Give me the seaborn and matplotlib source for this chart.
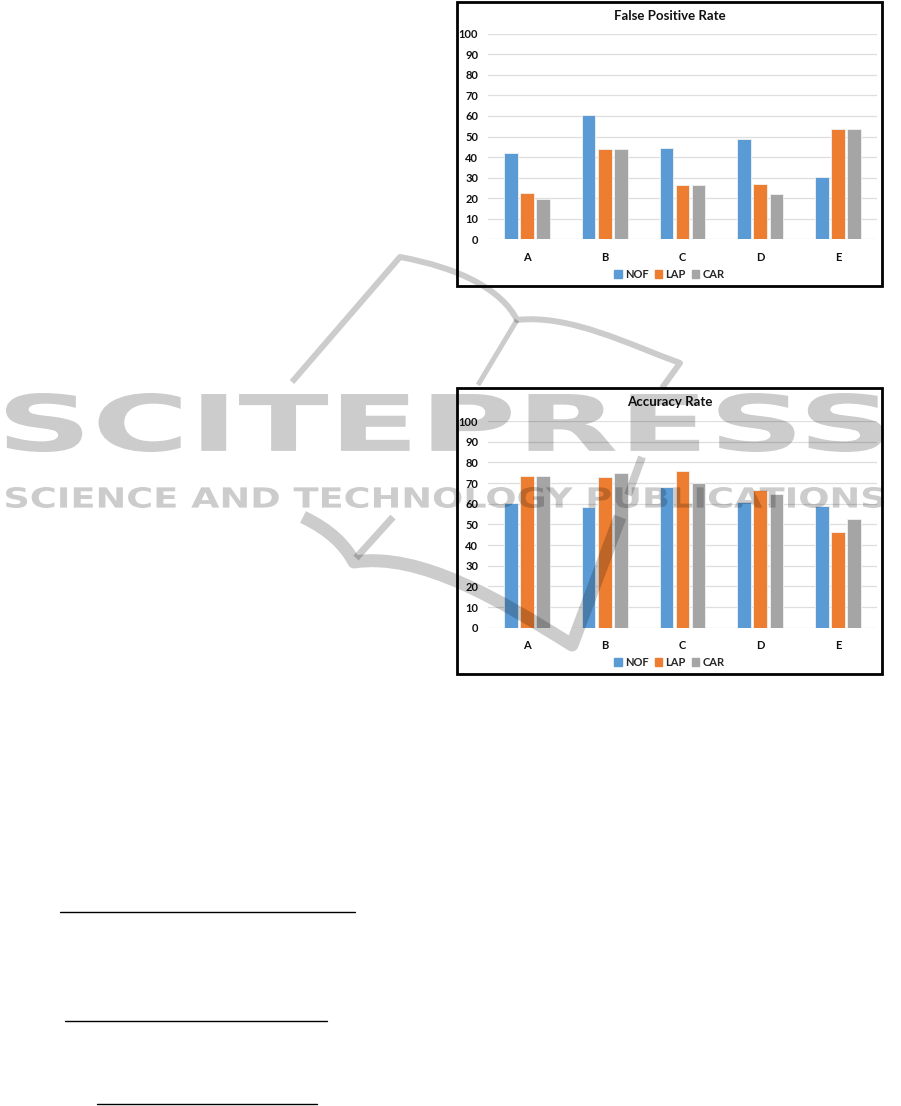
import matplotlib
matplotlib.use("Agg")
import matplotlib.pyplot as plt
import pandas as pd
import seaborn as sns
from matplotlib.patches import Rectangle, PathPatch
from matplotlib.path import Path
from matplotlib.textpath import TextPath
from matplotlib.font_manager import FontProperties
from matplotlib.transforms import Affine2D
from matplotlib.lines import Line2D

groups = ["A", "B", "C", "D", "E"]
methods = ["NOF", "LAP", "CAR"]

fpr_nof = [41.8, 60.3, 44.5, 48.6, 30.4]
fpr_lap = [22.5, 43.9, 26.6, 26.8, 53.7]
fpr_car = [19.5, 43.9, 26.6, 22.0, 53.7]

acc_nof = [60.2, 58.2, 67.9, 60.7, 58.9]
acc_lap = [73.4, 72.8, 75.7, 66.4, 46.4]
acc_car = [73.4, 74.8, 70.1, 64.8, 52.4]

colors = ["#5B9BD5", "#ED7D31", "#A5A5A5"]

W, H = 901, 1106

sns.set_theme(style="white")
plt.rcParams["font.family"] = ["Lato", "DejaVu Sans"]

fig = plt.figure(figsize=(W / 100, H / 100), dpi=100)


def long_df(nof, lap, car):
    return pd.DataFrame({
        "group": groups * 3,
        "method": [m for m in methods for _ in groups],
        "value": nof + lap + car,
    })


def px_box(l, t, r, b):
    # pixel box (from top-left) -> figure fraction [x, y, w, h]
    return [l / W, 1 - b / H, (r - l) / W, (b - t) / H]


def draw_chart(title, df, frame, axbox):
    fl, ft, fr, fb = frame
    fig.add_artist(Rectangle((fl / W, 1 - fb / H), (fr - fl) / W, (fb - ft) / H,
                             transform=fig.transFigure, fill=False,
                             ec="black", lw=2.0, zorder=0.5))
    ax = fig.add_axes(px_box(*axbox))
    sns.barplot(data=df, x="group", y="value", hue="method", palette=colors,
                width=0.62, gap=0.15, saturation=1, errorbar=None,
                edgecolor="#f2f2f2", linewidth=0.6, ax=ax)
    ax.set_ylim(0, 100)
    ax.set_xlim(-0.5, 4.5)
    ax.set_yticks(range(0, 101, 10))
    ax.yaxis.grid(True, color="#dedede", lw=0.9)
    ax.set_axisbelow(True)
    for s in ax.spines.values():
        s.set_visible(False)
    ax.set_xlabel("")
    ax.set_ylabel("")
    ax.tick_params(axis="both", length=0, labelsize=8, colors="#111111")
    ax.tick_params(axis="y", pad=7)
    ax.tick_params(axis="x", pad=9)
    for lab in ax.get_xticklabels() + ax.get_yticklabels():
        lab.set_fontweight("bold")
    ax.legend_.remove()
    handles = [Rectangle((0, 0), 1, 1, color=c) for c in colors]
    cx = ((fl + fr) / 2 - axbox[0]) / (axbox[2] - axbox[0])
    ly = (axbox[3] - (fb - 12)) / (axbox[3] - axbox[1])
    ax.legend(handles, methods, loc="center", bbox_to_anchor=(cx, ly), ncol=3,
              frameon=False, handlelength=0.7, handleheight=0.7,
              handletextpad=0.3, columnspacing=0.5,
              prop={"weight": "bold", "size": 8})
    fig.text((fl + fr) / 2 / W, 1 - (ft + 14) / H, title, ha="center",
             va="center", fontsize=9.5, fontweight="bold", color="#111111")
    return ax


draw_chart("False Positive Rate", long_df(fpr_nof, fpr_lap, fpr_car),
           (457, 2, 882, 286), (488, 33.7, 877, 239.3))
draw_chart("Accuracy Rate", long_df(acc_nof, acc_lap, acc_car),
           (457, 388, 882, 674), (488, 421, 877, 627.7))


# faint publisher watermark lying over the page
WM_ALPHA = 0.2


def fpt(p):
    return (p[0] / W, 1 - p[1] / H)


def wm_text(s, box, weight):
    l, t, r, b = box
    tp = TextPath((0, 0), s, size=1,
                  prop=FontProperties(family="DejaVu Sans", weight=weight))
    ext = tp.get_extents()
    tr = (Affine2D().translate(-ext.x0, -ext.y0)
          .scale((r - l) / W / ext.width, (b - t) / H / ext.height)
          .translate(l / W, 1 - b / H))
    fig.add_artist(PathPatch(tr.transform_path(tp), transform=fig.transFigure,
                             fc="black", ec="none", alpha=WM_ALPHA, zorder=5))


def wm_path(pts, codes, width_px):
    path = Path([fpt(p) for p in pts], codes)
    fig.add_artist(PathPatch(path, transform=fig.transFigure, fill=False,
                             ec="black", alpha=WM_ALPHA, lw=width_px * 0.72,
                             joinstyle="round", capstyle="butt", zorder=5))


wm_text("SCITEPRESS", (6, 393, 884, 452), "bold")
wm_text("SCIENCE AND TECHNOLOGY PUBLICATIONS", (6, 487, 884, 508), "bold")

M, L, C = Path.MOVETO, Path.LINETO, Path.CURVE4
# open-book outline of the logo
wm_path([(292, 382), (400, 257), (460, 268), (502, 290), (517, 320),
         (570, 314), (630, 345), (680, 363), (662, 388)],
        [M, L, C, C, C, C, C, C, L], 6)
wm_path([(517, 320), (478, 385)], [M, L], 5)
# check mark of the logo
wm_path([(303, 517), (330, 530), (345, 545), (354, 562),
         (420, 552), (500, 600), (572, 645), (620, 517)],
        [M, C, C, C, C, C, C, L], 13)
wm_path([(356, 558), (393, 517)], [M, L], 7)
wm_path([(628, 495), (642, 457)], [M, L], 8)

# fraction rules of the page text at lower left
for x0, x1, y in [(60, 355, 912), (65, 327, 1021), (97, 317, 1104)]:
    fig.add_artist(Line2D([x0 / W, x1 / W], [1 - y / H, 1 - y / H],
                          transform=fig.transFigure, color="black", lw=1.0))

fig.savefig("out.png", dpi=100)
